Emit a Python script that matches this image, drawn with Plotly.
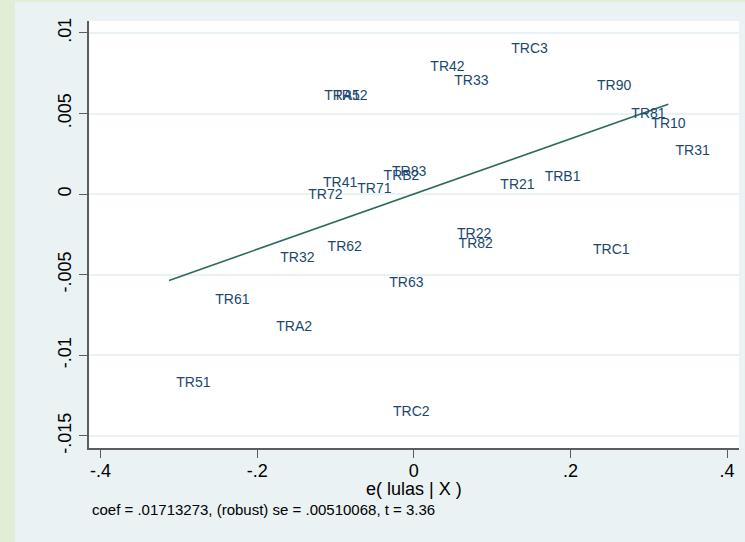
import plotly.graph_objects as go

# ---- data ----
labels = ["TRC3", "TR42", "TR33", "TRA1", "TR52", "TR90", "TR81", "TR10", "TR31",
          "TRB1", "TR21", "TR41", "TR72", "TR71", "TRB2", "TR83", "TR62", "TR32",
          "TR22", "TR82", "TR63", "TRA2", "TRC2", "TRC1", "TR61", "TR51"]
e_lulas = [0.1153, 0.0119, 0.0425, -0.1235, -0.1120, 0.2248, 0.2686, 0.2941, 0.3250,
           0.1579, 0.1013, -0.1252, -0.1439, -0.0814, -0.0478, -0.0370, -0.1193, -0.1797,
           0.0460, 0.0480, -0.0405, -0.1848, -0.0358, 0.2197, -0.2627, -0.3125]
e_y = [0.008995, 0.007854, 0.006985, 0.006055, 0.006055, 0.006656, 0.004920, 0.004342, 0.002624,
       0.001030, 0.000515, 0.000682, -0.000105, 0.000310, 0.001090, 0.001340, -0.003310, -0.003995,
       -0.002525, -0.003100, -0.005546, -0.008275, -0.013550, -0.003474, -0.006620, -0.011750]
coef = 0.01713273
note_text = "coef = .01713273, (robust) se = .00510068, t = 3.36"
x_title = "e( lulas | X )"
x_tickvals = [-0.4, -0.2, 0, 0.2, 0.4]
x_ticktext = ["-.4", "-.2", "0", ".2", ".4"]
y_tickvals = [0.01, 0.005, 0, -0.005, -0.01, -0.015]
y_ticktext = [".01", ".005", "0", "-.005", "-.01", "-.015"]

# ---- layout geometry (pixels) ----
W, H = 745, 542
L, R, T, B = 89, 739, 21, 448
pw, ph = R - L, B - T


def px_x(px):
    return (px - L) / pw


def px_y(py):
    return (B - py) / ph


BG = "#eaf2f3"
GREEN = "#e1eed6"
AXIS = "#5c5c5c"
LABEL = "#1a476f"
LINE = "#2b6b5c"
FONT = "Liberation Sans, Arial, sans-serif"

fig = go.Figure()

xmin, xmax = min(e_lulas), max(e_lulas)
fig.add_trace(go.Scatter(
    x=[xmin, xmax], y=[coef * xmin, coef * xmax], mode="lines",
    line=dict(color=LINE, width=1.6), hoverinfo="skip", showlegend=False))

fig.add_trace(go.Scatter(
    x=e_lulas, y=e_y, mode="markers+text", text=labels,
    textposition="middle right",
    marker=dict(size=10, color="rgba(0,0,0,0)"),
    textfont=dict(family=FONT, size=14, color=LABEL),
    showlegend=False, cliponaxis=False))

fig.update_layout(
    width=W, height=H,
    margin=dict(l=L, r=W - R, t=T, b=H - B, pad=0),
    paper_bgcolor=BG, plot_bgcolor="white",
    font=dict(family=FONT, size=18, color="black"),
    xaxis=dict(range=[-0.4147, 0.4153], tickvals=x_tickvals, ticktext=x_ticktext,
               showgrid=False, zeroline=False, showline=True, linecolor=AXIS, linewidth=1.5,
               ticks="outside", ticklen=8, tickwidth=1.3, tickcolor=AXIS,
               ticklabelstandoff=-2,
               tickfont=dict(family=FONT, size=18, color="black")),
    yaxis=dict(range=[-0.01575, 0.01074], tickvals=y_tickvals, ticktext=y_ticktext,
               showgrid=True, gridcolor=BG, gridwidth=1.5, zeroline=False,
               showline=True, linecolor=AXIS, linewidth=1.5,
               ticks="outside", ticklen=8, tickwidth=1.3, tickcolor=AXIS, tickangle=-90,
               ticklabelstandoff=1,
               tickfont=dict(family=FONT, size=18, color="black")),
    shapes=[
        dict(type="rect", xref="paper", yref="paper", x0=px_x(0), x1=px_x(15),
             y0=px_y(H), y1=px_y(0), fillcolor=GREEN, line=dict(width=0), layer="below"),
        dict(type="rect", xref="paper", yref="paper", x0=px_x(0), x1=px_x(W),
             y0=px_y(2), y1=px_y(0), fillcolor=GREEN, line=dict(width=0), layer="below"),
    ],
    annotations=[
        dict(text=x_title, xref="paper", yref="paper", x=px_x(414), y=px_y(489),
             xanchor="center", yanchor="middle", showarrow=False,
             font=dict(family=FONT, size=18, color="black")),
        dict(text=note_text, xref="paper", yref="paper", x=px_x(90), y=px_y(509),
             xanchor="left", yanchor="middle", showarrow=False,
             font=dict(family=FONT, size=15, color="black")),
    ],
)

fig.write_html("out.html", config={"displayModeBar": False},
               post_script="document.body.style.margin='0px';")
